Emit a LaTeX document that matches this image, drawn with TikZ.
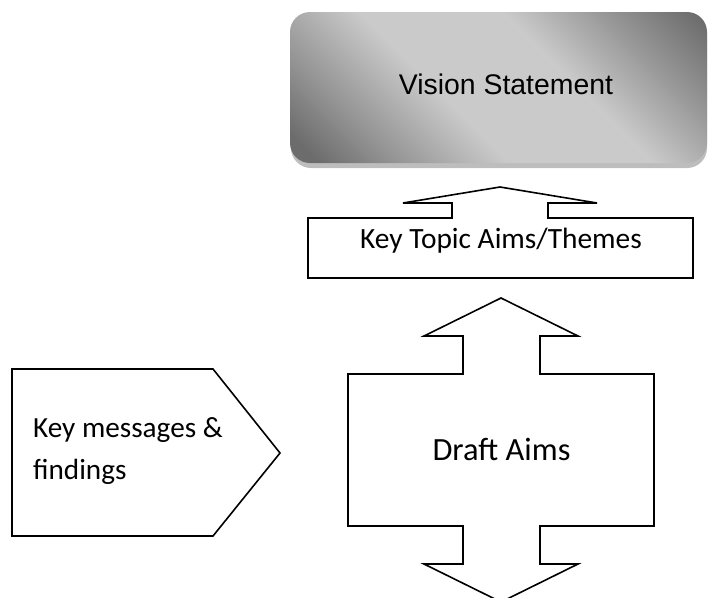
\documentclass[tikz,border=0pt]{standalone}
\usepackage{fontspec}
\setmainfont{Carlito}
\newfontfamily\arialfont{Liberation Sans}

\definecolor{vdark}{HTML}{6C6C6C}
\definecolor{vmid}{HTML}{959595}
\definecolor{vlight}{HTML}{CACACA}
\definecolor{vshadow}{HTML}{BDBDBD}

% diagonal grey sheen for the title panel
\pgfdeclarehorizontalshading{visionshade}{100bp}{%
  color(0bp)=(vdark); color(18bp)=(vdark); color(28bp)=(vmid);
  color(42bp)=(vlight); color(60bp)=(vlight); color(73bp)=(vmid);
  color(84bp)=(vdark); color(100bp)=(vdark)}

\tikzset{
  outline/.style={draw=black, line width=1.6pt, line join=miter, fill=white},
  calibri/.style={inner sep=0pt},
}

\begin{document}
\begin{tikzpicture}[x=1pt, y=-1pt]
\useasboundingbox (0,0) rectangle (708,597);
\clip (0,0) rectangle (708,597);

% title panel with its soft drop shadow
\fill[vshadow, rounded corners=20pt] (291,18) rectangle (707,168);
\path[rounded corners=20pt, shading=visionshade, shading angle=45]
  (290,12) rectangle (707,163);
\node[font=\arialfont\fontsize{28.4}{32}\selectfont, anchor=base, inner sep=0pt]
  (vision) at (506,94) {Vision Statement};

% box with an up-arrow on top
\draw[outline] (308,218) -- (452,218) -- (452,203) -- (403,203) -- (500,187)
  -- (597,203) -- (548,203) -- (548,218) -- (693,218) -- (693,278)
  -- (308,278) -- cycle;
\node[calibri, font=\fontsize{29.4}{34}\selectfont, anchor=base] (themes) at (501,248) {Key Topic Aims/Themes};

% box with arrows both up and down
\draw[outline] (348,374) -- (463,374) -- (463,336) -- (424,336) -- (501,298)
  -- (578,336) -- (540,336) -- (540,374) -- (654,374) -- (654,526)
  -- (540,526) -- (540,564) -- (578,564) -- (501,602) -- (424,564)
  -- (463,564) -- (463,526) -- (348,526) -- cycle;
\node[calibri, font=\fontsize{32.4}{36}\selectfont, anchor=base] (draft) at (501.5,460) {Draft Aims};

% pentagon pointing right
\draw[outline] (12,369) -- (213,369) -- (280,453) -- (213,536) -- (12,536) -- cycle;
\node[calibri, anchor=base west, font=\fontsize{29.2}{34}\selectfont] (msg1) at (33,437) {Key messages \&};
\node[calibri, anchor=base west, font=\fontsize{29.2}{34}\selectfont] (msg2) at (33,479) {findings};
\end{tikzpicture}
\end{document}
